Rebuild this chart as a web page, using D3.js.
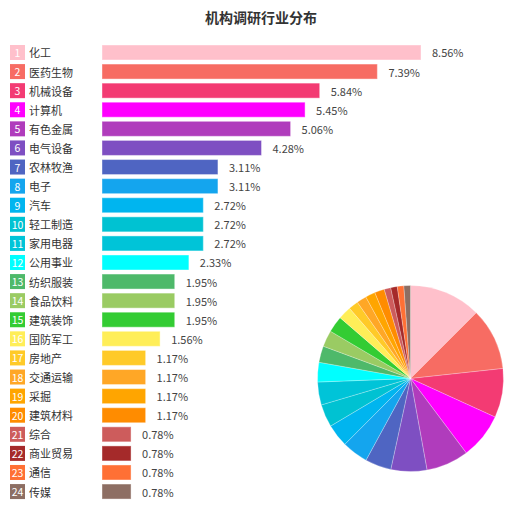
<!DOCTYPE html>
<html><head><meta charset="utf-8">
<script src="https://cdn.jsdelivr.net/npm/d3@7"></script>
<style>body{margin:0;background:#fff;}svg{display:block;}</style>
</head><body>
<svg id="chart" width="516" height="518"></svg>
<script>
const title = "机构调研行业分布";
const categories = ["化工","医药生物","机械设备","计算机","有色金属","电气设备","农林牧渔","电子","汽车","轻工制造","家用电器","公用事业","纺织服装","食品饮料","建筑装饰","国防军工","房地产","交通运输","采掘","建筑材料","综合","商业贸易","通信","传媒"];
const values = [8.56,7.39,5.84,5.45,5.06,4.28,3.11,3.11,2.72,2.72,2.72,2.33,1.95,1.95,1.95,1.56,1.17,1.17,1.17,1.17,0.78,0.78,0.78,0.78];
const colors = ["#ffc0cb","#f76c63","#f33b73","#ff00ff","#b03cbc","#7e4fc2","#4f65c2","#14a5ee","#00b5ef","#00c2d2","#00c4d8","#00ffff","#4eb96a","#9acb63","#33cc33","#ffee58","#ffca28","#ffa726","#ffa500","#ff8c00","#cd5c5c","#a52a2a","#ff7035","#8d6e63"];

const svg = d3.select("#chart");
const font = "'Microsoft YaHei','Noto Sans CJK SC','Noto Sans',sans-serif";

svg.append("text").attr("x",261).attr("y",17).attr("text-anchor","middle")
  .attr("dominant-baseline","central").attr("font-family",font)
  .attr("font-size",14).attr("font-weight","bold").attr("fill","#333").text(title);

const y = d3.scaleBand().domain(categories).range([42.95, 42.95+24*19.09])
  .paddingInner(4.09/19.09).paddingOuter(4.09/19.09/2);
const x = d3.scaleLinear().domain([0, 8.56]).range([102, 421]);

const rows = svg.append("g").selectAll("g").data(categories).join("g");
// rank boxes
rows.append("rect").attr("x",10).attr("y",d=>y(d)).attr("width",15).attr("height",y.bandwidth())
  .attr("fill",(d,i)=>colors[i]);
rows.append("text").attr("x",17.5).attr("y",d=>y(d)+y.bandwidth()/2).attr("text-anchor","middle")
  .attr("dominant-baseline","central").attr("font-family",font).attr("font-size",10.5)
  .attr("fill","#fff").text((d,i)=>i+1);
// category labels
rows.append("text").attr("x",29).attr("y",d=>y(d)+y.bandwidth()/2)
  .attr("dominant-baseline","central").attr("font-family",font).attr("font-size",11)
  .attr("fill","#333").text(d=>d);
// bars
rows.append("rect").attr("x",x(0)+0.5).attr("y",d=>y(d)+0.5)
  .attr("width",(d,i)=>x(values[i])-x(0)-1).attr("height",y.bandwidth()-1)
  .attr("fill",(d,i)=>colors[i]).attr("stroke",(d,i)=>colors[i]).attr("stroke-opacity",0.6);
// value labels
rows.append("text").attr("x",(d,i)=>x(values[i])+11).attr("y",d=>y(d)+y.bandwidth()/2)
  .attr("dominant-baseline","central").attr("font-family",font).attr("font-size",11)
  .attr("fill","#444").text((d,i)=>values[i].toFixed(2)+"%");

// pie
const pie = d3.pie().sort(null).value(d=>d)(values);
const arc = d3.arc().innerRadius(0).outerRadius(93);
svg.append("g").attr("transform","translate(410.5,378.5)")
  .selectAll("path").data(pie).join("path")
  .attr("d",arc).attr("fill",(d,i)=>colors[i])
  .attr("stroke","#fff").attr("stroke-width",0.5).attr("stroke-opacity",0.5);
</script>
</body></html>
